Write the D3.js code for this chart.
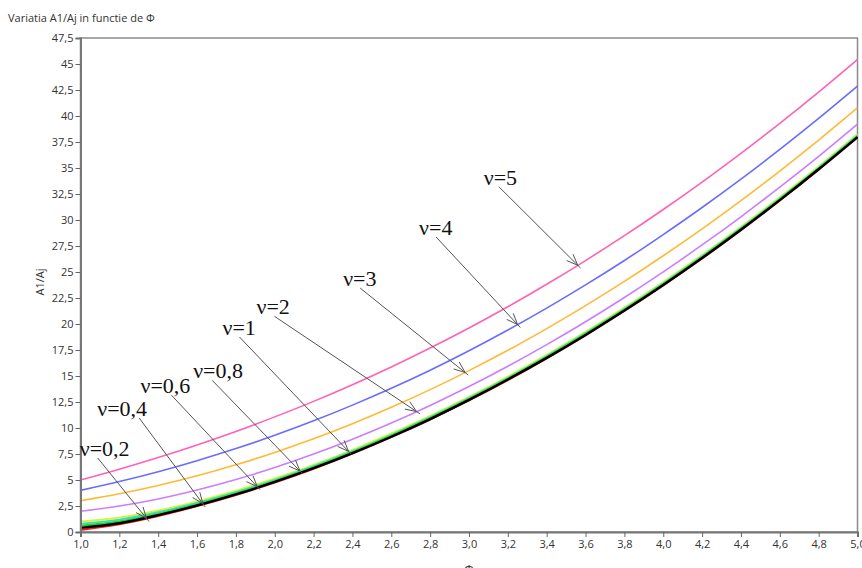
<!DOCTYPE html>
<html><head><meta charset="utf-8">
<script src="https://cdn.jsdelivr.net/npm/d3@7"></script>
<style>body{margin:0;background:#fff}svg{display:block}</style></head>
<body>
<svg id="chart" width="862" height="568"></svg>
<script>
// ---- data ----
const phi   = [1.0,1.2,1.4,1.6,1.8,2.0,2.2,2.4,2.6,2.8,3.0,3.2,3.4,3.6,3.8,4.0,4.2,4.4,4.6,4.8,5.0];
const nu5   = [5.00,6.04,7.16,8.37,9.67,11.07,12.56,14.16,15.87,17.69,19.62,21.66,23.82,26.10,28.49,31.01,33.65,36.41,39.29,42.29,45.42];
const nu4   = [4.00,4.85,5.80,6.86,8.02,9.30,10.69,12.20,13.82,15.56,17.43,19.42,21.53,23.76,26.11,28.60,31.20,33.93,36.79,39.77,42.87];
const nu3   = [3.00,3.67,4.47,5.40,6.46,7.65,8.96,10.41,11.99,13.69,15.52,17.47,19.56,21.77,24.10,26.56,29.15,31.87,34.71,37.68,40.78];
const nu2   = [2.00,2.50,3.18,4.04,5.05,6.20,7.49,8.92,10.48,12.17,13.99,15.94,18.02,20.22,22.55,25.01,27.60,30.31,33.16,36.12,39.22];
const nu1   = [1.00,1.39,2.06,2.94,3.97,5.14,6.45,7.89,9.47,11.16,12.99,14.95,17.03,19.24,21.57,24.04,26.62,29.34,32.18,35.15,38.25];
const nu08  = [0.80,1.19,1.89,2.78,3.82,5.00,6.32,7.76,9.34,11.04,12.87,14.82,16.91,19.12,21.45,23.92,26.51,29.22,32.06,35.03,38.13];
const nu06  = [0.60,1.00,1.73,2.65,3.70,4.89,6.21,7.66,9.23,10.94,12.77,14.72,16.81,19.02,21.36,23.82,26.41,29.13,31.97,34.94,38.04];
const nu04  = [0.40,0.84,1.62,2.55,3.61,4.81,6.13,7.58,9.16,10.86,12.70,14.66,16.74,18.95,21.29,23.75,26.34,29.06,31.91,34.88,37.97];
const nu02  = [0.20,0.74,1.54,2.49,3.56,4.76,6.08,7.54,9.12,10.82,12.65,14.61,16.70,18.91,21.25,23.71,26.30,29.02,31.87,34.84,37.93];

const xTicks = [1.0,1.2,1.4,1.6,1.8,2.0,2.2,2.4,2.6,2.8,3.0,3.2,3.4,3.6,3.8,4.0,4.2,4.4,4.6,4.8,5.0];
const yTicks = [0,2.5,5,7.5,10,12.5,15,17.5,20,22.5,25,27.5,30,32.5,35,37.5,40,42.5,45,47.5];

// annotations: label text, series it points to, Φ of arrow tip, label anchor (data units)
const annoText     = ["ν=5","ν=4","ν=3","ν=2","ν=1","ν=0,8","ν=0,6","ν=0,4","ν=0,2"];
const annoTipPhi   = [3.56,3.25,2.98,2.73,2.38,2.13,1.91,1.63,1.34];
const annoLabelPhi = [3.076,2.743,2.352,1.906,1.731,1.580,1.309,1.086,0.996];
const annoLabelVal = [33.4,28.56,23.65,20.93,18.94,14.78,13.34,11.15,7.31];

// ---- styling / layout ----
const W = 862, H = 568;
const plot = {left: 80.5, right: 857.5, top: 38, bottom: 532};
const arrowStartDx = [15,17,17,18,17,19,31,42,18];
const seriesList = [
  {v: nu5,  color: "#ff62b4", w: 1.6},
  {v: nu4,  color: "#6a6cff", w: 1.6},
  {v: nu3,  color: "#ffb935", w: 1.6},
  {v: nu2,  color: "#cc7dff", w: 1.6},
  {v: nu1,  color: "#d4f53c", w: 2},
  {v: nu08, color: "#3ad8c8", w: 2},
  {v: nu06, color: "#22d322", w: 2},
  {v: nu02, color: "#ff1a1a", w: 2},
  {v: nu04, color: "#000000", w: 2.4}
];
const annoSeries = [nu5,nu4,nu3,nu2,nu1,nu08,nu06,nu04,nu02];

const svg = d3.select("#chart");
const x = d3.scaleLinear().domain([1,5]).range([plot.left, plot.right]);
const y = d3.scaleLinear().domain([0,47.5]).range([plot.bottom, plot.top]);

const uiFont = "'Open Sans', 'Noto Sans', sans-serif";

// title
svg.append("text").attr("x", 8).attr("y", 22)
  .attr("font-family", uiFont).attr("font-size", 11).attr("fill", "#333")
  .text("Variatia A1/Aj in functie de Φ");

// frame
svg.append("rect").attr("x", plot.left).attr("y", plot.top)
  .attr("width", plot.right - plot.left).attr("height", plot.bottom - plot.top)
  .attr("fill", "#fff").attr("stroke", "#8a8a8a").attr("stroke-width", 1.5);

// curves
const line = d3.line().x((d,i) => x(phi[i])).y(d => y(d)).curve(d3.curveMonotoneX);
const curves = svg.append("g");
seriesList.forEach(s => {
  curves.append("path").attr("d", line(s.v)).attr("fill", "none")
    .attr("stroke", s.color).attr("stroke-width", s.w);
});

// axes
const fmtX = d => d3.format(".1f")(d).replace(".", ",");
const fmtY = d => (Number.isInteger(d) ? String(d) : d3.format(".1f")(d)).replace(".", ",");

const yAxis = svg.append("g").attr("transform", `translate(${plot.left},0)`)
  .call(d3.axisLeft(y).tickValues(yTicks).tickFormat(fmtY).tickSize(5).tickPadding(2));
const xAxis = svg.append("g").attr("transform", `translate(0,${plot.bottom})`)
  .call(d3.axisBottom(x).tickValues(xTicks).tickFormat(fmtX).tickSize(5).tickPadding(3));
[yAxis, xAxis].forEach(a => {
  a.select(".domain").attr("stroke", "#777").attr("stroke-width", 2);
  a.selectAll(".tick line").attr("stroke", "#666");
  a.selectAll(".tick text").attr("font-family", uiFont).attr("font-size", 11).attr("fill", "#333");
});

// axis labels
svg.append("text").attr("transform", `translate(44,${282}) rotate(-90)`)
  .attr("text-anchor", "middle").attr("font-family", uiFont).attr("font-size", 11).attr("fill", "#333")
  .text("A1/Aj");
svg.append("text").attr("x", x(3.0)).attr("y", 574)
  .attr("text-anchor", "middle").attr("font-family", uiFont).attr("font-size", 12).attr("fill", "#333")
  .text("Φ");

// annotations
const interp = (arr, p) => {
  const i = Math.min(phi.length - 2, Math.max(0, Math.floor((p - 1) / 0.2)));
  const t = (p - phi[i]) / (phi[i+1] - phi[i]);
  return arr[i] + t * (arr[i+1] - arr[i]);
};
const ag = svg.append("g");
annoText.forEach((txt, k) => {
  const lx = x(annoLabelPhi[k]), ly = y(annoLabelVal[k]);
  ag.append("text").attr("x", lx).attr("y", ly)
    .attr("font-family", "'Liberation Serif', 'Times New Roman', serif")
    .attr("font-size", 22).attr("fill", "#111")
    .text(txt);
  const sx = lx + arrowStartDx[k], sy = ly + 2;
  const tx = x(annoTipPhi[k]), ty = y(interp(annoSeries[k], annoTipPhi[k]));
  const ang = Math.atan2(ty - sy, tx - sx);
  const ext = 4;
  ag.append("line").attr("x1", sx).attr("y1", sy)
    .attr("x2", tx + ext * Math.cos(ang)).attr("y2", ty + ext * Math.sin(ang))
    .attr("stroke", "#555").attr("stroke-width", 1);
  const hl = 12, ha = 0.38;
  [ang + Math.PI - ha, ang + Math.PI + ha].forEach(a => {
    ag.append("line").attr("x1", tx).attr("y1", ty)
      .attr("x2", tx + hl * Math.cos(a)).attr("y2", ty + hl * Math.sin(a))
      .attr("stroke", "#555").attr("stroke-width", 1);
  });
});
</script>
</body></html>
